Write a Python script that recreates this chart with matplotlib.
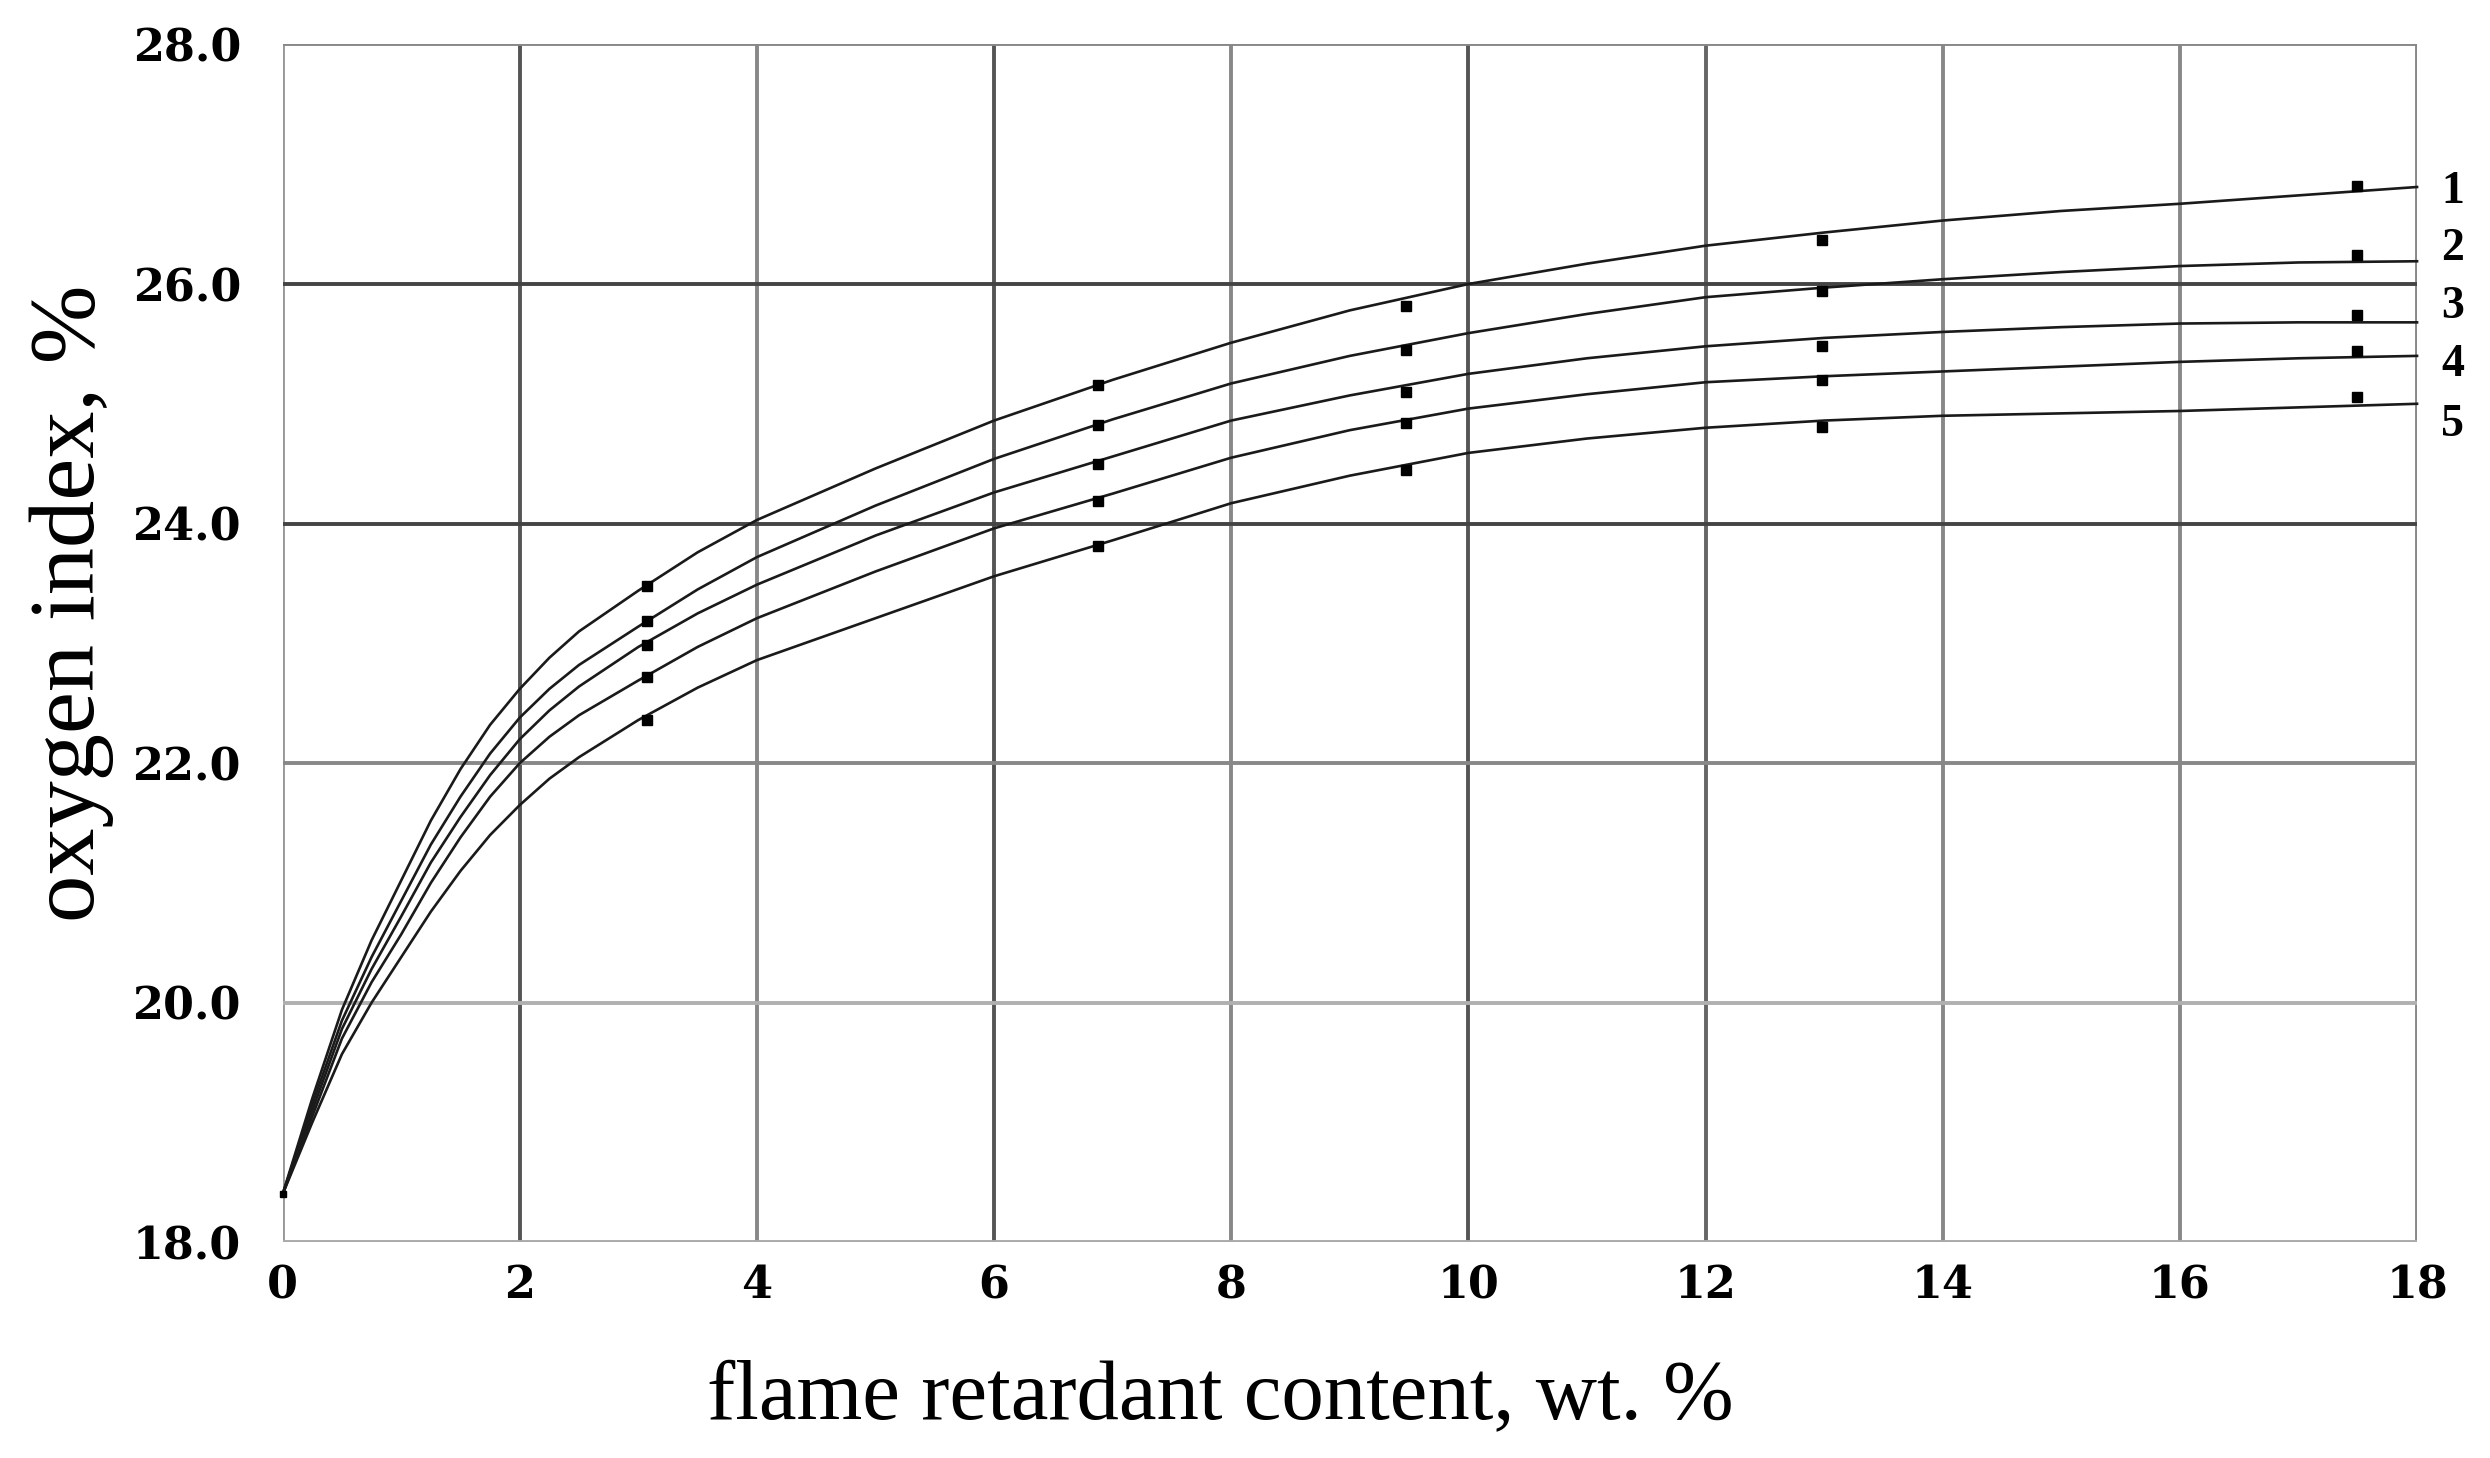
import numpy as np
import matplotlib.pyplot as plt

# curve values
content = [0, 0.25, 0.5, 0.75, 1, 1.25, 1.5, 1.75, 2, 2.25, 2.5, 3, 3.5, 4, 5, 6, 7, 8,
           9, 10, 11, 12, 13, 14, 15, 16, 17, 18]
curve_1 = [18.4, 19.2, 19.94, 20.52, 21.02, 21.52, 21.95, 22.32, 22.62, 22.88, 23.1, 23.44,
           23.76, 24.03, 24.46, 24.86, 25.2, 25.51, 25.78, 26.0, 26.17, 26.32, 26.43, 26.53,
           26.61, 26.67, 26.74, 26.81]
curve_2 = [18.4, 19.15, 19.85, 20.38, 20.85, 21.32, 21.72, 22.08, 22.38, 22.62, 22.82, 23.14,
           23.45, 23.72, 24.15, 24.54, 24.87, 25.17, 25.4, 25.59, 25.75, 25.89, 25.97, 26.04,
           26.1, 26.15, 26.18, 26.19]
curve_3 = [18.4, 19.1, 19.78, 20.28, 20.72, 21.17, 21.55, 21.9, 22.2, 22.44, 22.64, 22.97,
           23.25, 23.49, 23.9, 24.26, 24.56, 24.86, 25.07, 25.25, 25.38, 25.48, 25.55, 25.6,
           25.64, 25.67, 25.68, 25.68]
curve_4 = [18.4, 19.05, 19.7, 20.17, 20.57, 21.0, 21.38, 21.72, 22.0, 22.22, 22.4, 22.69,
           22.97, 23.21, 23.6, 23.96, 24.25, 24.55, 24.78, 24.96, 25.08, 25.18, 25.23, 25.27,
           25.31, 25.35, 25.38, 25.4]
curve_5 = [18.4, 19.0, 19.57, 20.0, 20.38, 20.76, 21.1, 21.4, 21.65, 21.87, 22.05, 22.36,
           22.63, 22.86, 23.21, 23.56, 23.86, 24.17, 24.4, 24.59, 24.71, 24.8, 24.86, 24.9,
           24.92, 24.94, 24.97, 25.0]

# measured points
points_x = [3.07, 6.88, 9.47, 12.98, 17.49]
points_1 = [23.48, 25.16, 25.82, 26.37, 26.82]
points_2 = [23.19, 24.82, 25.45, 25.94, 26.24]
points_3 = [22.99, 24.50, 25.10, 25.48, 25.74]
points_4 = [22.72, 24.19, 24.84, 25.20, 25.44]
points_5 = [22.36, 23.81, 24.45, 24.81, 25.06]

curve_labels = ['1', '2', '3', '4', '5']
label_y = [26.77, 26.29, 25.81, 25.32, 24.82]

x_ticks = list(range(0, 19, 2))
y_ticks = [18, 20, 22, 24, 26, 28]

serif = ['Liberation Serif', 'DejaVu Serif']
tick_font = ['DejaVu Serif']

fig = plt.figure(figsize=(24.9, 14.58), dpi=100)
ax = fig.add_axes([0.1135, 0.148, 0.8572, 0.8215])
ax.set_xlim(0, 18)
ax.set_ylim(18, 28)

# grid, some lines printed darker than others
vcol = {0: '#999999', 2: '#555555', 4: '#888888', 6: '#555555', 8: '#888888',
        10: '#555555', 12: '#666666', 14: '#888888', 16: '#888888', 18: '#888888'}
hcol = {18: '#aaaaaa', 20: '#b0b0b0', 22: '#888888', 24: '#444444', 26: '#444444', 28: '#888888'}
for x in x_ticks:
    ax.axvline(x, color=vcol[x], lw=2.8, zorder=1)
for y in y_ticks:
    ax.axhline(y, color=hcol[y], lw=2.8, zorder=1)
for s in ax.spines.values():
    s.set_visible(False)

curves = [curve_1, curve_2, curve_3, curve_4, curve_5]
points = [points_1, points_2, points_3, points_4, points_5]
for c, p in zip(curves, points):
    ax.plot(content, c, color='#1a1a1a', lw=1.9, zorder=3, clip_on=False)
    ax.plot(points_x, p, ls='none', marker='s', ms=7.5, color='black', zorder=4)
ax.plot([0], [18.4], ls='none', marker='s', ms=5, color='black', zorder=4, clip_on=False)

for lab, y in zip(curve_labels, label_y):
    ax.text(18.3, y, lab, fontsize=33, fontweight='bold', family=serif,
            ha='center', va='center', clip_on=False)

ax.set_xticks(x_ticks)
ax.set_xticklabels([str(v) for v in x_ticks])
ax.set_yticks(y_ticks)
ax.set_yticklabels(['%.1f' % v for v in y_ticks])
ax.tick_params(axis='x', length=0, pad=16)
ax.tick_params(axis='y', length=0, pad=30)
for t in ax.get_xticklabels() + ax.get_yticklabels():
    t.set_fontfamily(tick_font)
    t.set_fontweight('bold')
    t.set_fontsize(32)

fig.text(0.49, 0.041, 'flame retardant content, wt. %', family=serif,
         fontsize=61, ha='center', va='center')
fig.text(0.0287, 0.586, 'oxygen index, %', family=serif, fontsize=68,
         ha='center', va='center', rotation=90)

fig.savefig('out.png', dpi=100, facecolor='white')
